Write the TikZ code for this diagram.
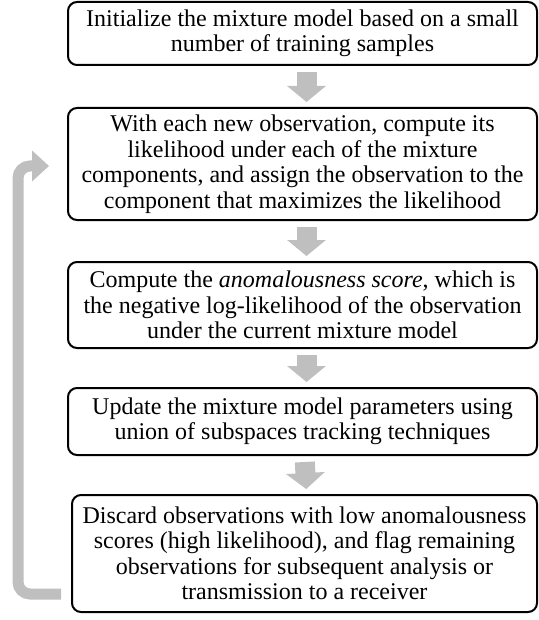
\documentclass[tikz,border=0pt]{standalone}
\usepackage{fontspec}
\setmainfont{Liberation Serif}
\usepackage{tikz}
\usetikzlibrary{calc, positioning, arrows.meta}
\definecolor{arrowgrey}{RGB}{191,191,191}

\begin{document}
\begin{tikzpicture}[
  x=1pt, y=1pt,
  stepbox/.style={draw, line width=2pt, rounded corners=9pt, align=center,
    inner sep=0pt, minimum width=469pt, font=\fontsize{24}{25.5}\selectfont},
  flowarrow/.style={draw=arrowgrey, line width=20pt, shorten <=6pt, shorten >=5pt,
    -{Triangle[width=38pt,length=16pt]}},
  looparrow/.style={draw=arrowgrey, line width=11pt, rounded corners=12pt,
    -{Triangle[width=30pt,length=17pt]}},
]
\useasboundingbox (0,0) rectangle (538,-620);

% Steps
\node[stepbox, minimum height=63pt] (init) at (302.5,-33.5)
  {Initialize the mixture model based on a small\\ number of training samples};
\node[stepbox, minimum height=112pt] (assign) at (302.5,-164)
  {With each new observation, compute its\\ likelihood under each of the mixture\\
   components, and assign the observation to the\\ component that maximizes the likelihood};
\node[stepbox, minimum height=86pt] (score) at (302.5,-305)
  {Compute the \textit{anomalousness score}, which is\\ the negative log-likelihood of the observation\\
   under the current mixture model};
\node[stepbox, minimum height=67pt] (update) at (302.5,-421.5)
  {Update the mixture model parameters using\\ union of subspaces tracking techniques};
\node[stepbox, minimum height=117pt, minimum width=465pt] (discard) at (304.5,-553.5)
  {Discard observations with low anomalousness\\ scores (high likelihood), and flag remaining\\
   observations for subsequent analysis or\\ transmission to a receiver};

% Arrows between steps
\draw[flowarrow] ([xshift=4pt]init.south) -- ([xshift=4pt]assign.north);
\draw[flowarrow] ([xshift=4pt]assign.south) -- ([xshift=4pt]score.north);
\draw[flowarrow] ([xshift=4pt]score.south) -- ([xshift=4pt]update.north);
\draw[flowarrow] ([xshift=2pt]update.south) -- ([xshift=2pt]discard.north);

% Loop back
\coordinate (loopstart) at ([shift={(-10pt,19pt)}]discard.south west);
\coordinate (loopend) at ([shift={(-18pt,-2pt)}]assign.west);
\coordinate (loopcol) at (18,-400);
\draw[looparrow] (loopstart) -| (loopcol |- loopend) -- (loopend);

\end{tikzpicture}
\end{document}
